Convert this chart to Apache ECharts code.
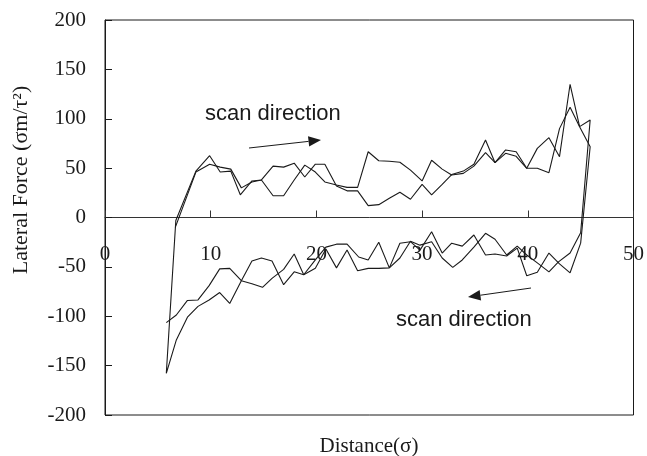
<!DOCTYPE html>
<html>
<head>
<meta charset="utf-8">
<script src="https://cdn.jsdelivr.net/npm/echarts@6/dist/echarts.min.js"></script>
<style>
html,body{margin:0;padding:0;background:#fff;}
#chart{width:647px;height:456px;}
</style>
</head>
<body>
<div id="chart"></div>
<script>
// Run 1: forward scan (upper trace) then return scan (lower trace)
const run1ForwardX = [5.8, 6.7, 8.6, 9.9, 10.9, 11.9, 12.8, 13.9, 14.8, 15.9, 16.9, 17.9, 18.9, 19.9, 20.8, 21.9, 22.9, 23.9, 24.9, 25.9, 26.9, 27.9, 28.9, 30.0, 30.9, 31.9, 32.8, 33.9, 34.9, 36.0, 36.9, 37.9, 38.9, 39.9, 40.9, 42.0, 43.0, 44.0, 44.9, 45.9];
const run1ForwardY = [-157.8, -3, 47, 62.6, 46, 47, 23, 37, 38, 52, 51, 55, 41, 54, 54, 32, 27, 27, 12, 13, 19.4, 25.5, 18.5, 33.5, 22.8, 33.5, 43.5, 47, 54, 78.5, 55.5, 65, 62, 49.8, 70, 80.8, 61.6, 134.9, 92, 98.7];
const run1ReturnX = [45.0, 44.0, 42.9, 42.0, 40.9, 39.9, 39.0, 38.0, 36.9, 36.0, 34.9, 33.8, 32.9, 31.9, 30.9, 29.8, 28.9, 27.9, 26.9, 25.9, 24.9, 23.9, 22.9, 21.9, 20.9, 19.9, 18.8, 17.9, 16.9, 15.8, 14.8, 13.9, 12.9, 11.8, 10.85, 9.85, 8.8, 7.8, 6.75, 5.8];
const run1ReturnY = [-15.4, -36, -45, -55, -46, -38, -29, -38, -22, -16, -30, -43, -50.5, -41, -24.5, -28, -24, -41, -51, -51.5, -51.5, -54, -33, -51, -32, -51.5, -58, -55, -68, -44, -41, -44, -64, -87, -76, -83.5, -90, -101, -124, -157.8];

// Run 2: forward scan (upper trace) then return scan (lower trace)
const run2ForwardX = [6.65, 8.6, 9.9, 10.9, 11.9, 12.9, 13.9, 14.8, 15.9, 16.9, 17.9, 18.9, 19.9, 20.8, 21.9, 22.9, 23.9, 24.9, 25.9, 26.9, 27.9, 28.9, 30.0, 30.9, 31.9, 32.8, 33.9, 34.9, 36.0, 36.9, 37.9, 38.9, 39.9, 40.9, 42.0, 43.0, 44.0, 44.9, 45.9];
const run2ForwardY = [-10, 46, 54, 51, 49, 30, 36, 38, 22, 22, 38, 53, 46, 36, 33, 30.5, 30.5, 66.6, 57.5, 57, 56, 48, 37, 58, 49, 43, 44.7, 52, 65.6, 55.5, 68.4, 66.6, 49.8, 49.8, 45.4, 90, 111.6, 92, 71.7];
const run2ReturnX = [45.0, 44.0, 43.0, 42.0, 40.9, 39.9, 39.0, 38.0, 36.9, 36.0, 34.9, 33.8, 32.8, 31.9, 30.9, 29.8, 28.9, 27.9, 26.9, 25.9, 24.9, 24.0, 22.9, 21.9, 20.9, 19.9, 18.8, 17.9, 16.9, 15.8, 14.9, 13.9, 12.9, 11.8, 10.85, 9.85, 8.8, 7.8, 6.75, 5.8];
const run2ReturnY = [-26, -56, -47, -36, -55.5, -59, -31, -39, -37, -38, -17.7, -29, -26, -36, -14.4, -33, -24.5, -26, -51, -25, -43, -40, -27, -27, -30, -43, -58, -37, -52.5, -61.6, -70.7, -67, -64, -51.5, -52, -69, -83.5, -84, -98.7, -106.5];

const xTicks = [0, 10, 20, 30, 40, 50];
const yTicks = [-200, -150, -100, -50, 0, 50, 100, 150, 200];

const xTitle = 'Distance(σ)';
const yTitle = 'Lateral Force (σm/τ²)';
const noteText = 'scan direction';

function pairs(xs, ys) { return xs.map((x, i) => [x, ys[i]]); }

const chart = echarts.init(document.getElementById('chart'), null, {renderer: 'canvas'});
const ink = '#1a1a1a';
const serif = '"Liberation Serif", "Times New Roman", serif';
const sans = '"Liberation Sans", Arial, sans-serif';

const gridTop = 20, gridBottom = 41, chartH = 456;
const gridH = chartH - gridTop - gridBottom;
// place the x axis (line, ticks, labels) on y = 0, which is the middle of the symmetric y range
const yMin = yTicks[0], yMax = yTicks[yTicks.length - 1];
const zeroOffset = -gridH * (0 - yMin) / (yMax - yMin);

function arrow(x1, y1, x2, y2) {
  const dx = x2 - x1, dy = y2 - y1;
  const L = Math.sqrt(dx * dx + dy * dy);
  const ux = dx / L, uy = dy / L;
  const hl = 12.5, hw = 5.2;
  const bx = x2 - ux * hl, by = y2 - uy * hl;
  const px = -uy, py = ux;
  return [
    {type: 'line', shape: {x1: x1, y1: y1, x2: bx, y2: by}, style: {stroke: ink, lineWidth: 1}},
    {type: 'polygon', shape: {points: [[x2, y2], [bx + px * hw, by + py * hw], [bx - px * hw, by - py * hw]]}, style: {fill: ink}}
  ];
}

chart.setOption({
  animation: false,
  backgroundColor: '#fff',
  grid: {left: 105, right: 13, top: gridTop, bottom: gridBottom, show: true, borderColor: ink, borderWidth: 1},
  xAxis: {
    type: 'value', min: xTicks[0], max: xTicks[xTicks.length - 1], interval: 10,
    position: 'bottom', offset: zeroOffset,
    axisLine: {onZero: false, lineStyle: {color: '#333', width: 1}},
    axisTick: {inside: true, length: 7, lineStyle: {color: '#333'}},
    axisLabel: {margin: 37, verticalAlign: 'middle', color: ink, fontFamily: serif, fontSize: 21},
    splitLine: {show: false}
  },
  yAxis: {
    type: 'value', min: yMin, max: yMax, interval: 50,
    axisLine: {show: true, onZero: false, lineStyle: {color: ink, width: 1}},
    axisTick: {show: true, inside: true, length: 7, lineStyle: {color: ink}},
    axisLabel: {margin: 19, color: ink, fontFamily: serif, fontSize: 21},
    splitLine: {show: false}
  },
  series: [
    {type: 'line', data: pairs(run1ForwardX.concat(run1ReturnX), run1ForwardY.concat(run1ReturnY)), showSymbol: false, symbol: 'none', lineStyle: {color: ink, width: 1.1}, silent: true},
    {type: 'line', data: pairs(run2ForwardX.concat(run2ReturnX), run2ForwardY.concat(run2ReturnY)), showSymbol: false, symbol: 'none', lineStyle: {color: ink, width: 1.1}, silent: true}
  ],
  graphic: [
    {type: 'text', x: 369, y: 446, style: {text: xTitle, font: '21px ' + serif, fill: ink, align: 'center', verticalAlign: 'middle'}},
    {type: 'text', x: 21, y: 180, rotation: Math.PI / 2, style: {text: yTitle, font: '22px ' + serif, fill: ink, align: 'center', verticalAlign: 'middle'}},
    {type: 'text', x: 205, y: 114, style: {text: noteText, font: '22px ' + sans, fill: ink, align: 'left', verticalAlign: 'middle'}},
    {type: 'text', x: 396, y: 320, style: {text: noteText, font: '22px ' + sans, fill: ink, align: 'left', verticalAlign: 'middle'}}
  ].concat(arrow(249, 148, 321, 140)).concat(arrow(531, 288, 468, 297))
});
</script>
</body>
</html>
